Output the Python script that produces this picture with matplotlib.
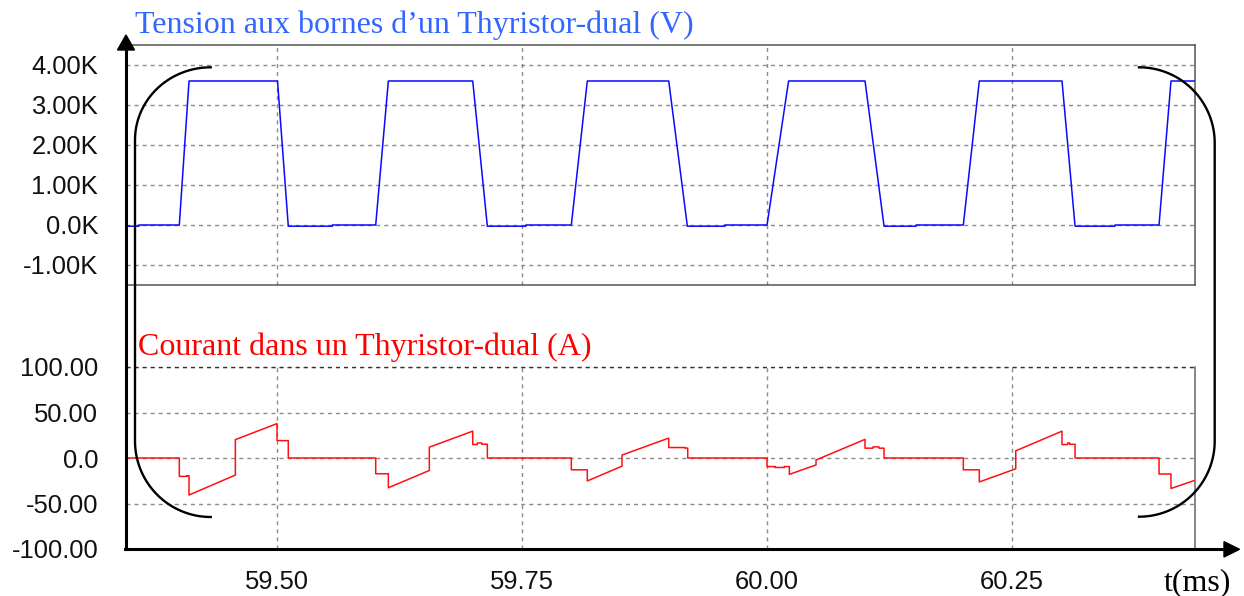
import numpy as np
import matplotlib.pyplot as plt
from matplotlib.lines import Line2D
from matplotlib.patches import Polygon

plt.rcParams['lines.scale_dashes'] = False
plt.rcParams['font.family'] = ['Liberation Sans', 'DejaVu Sans']

# time axis (ms)
t_min, t_max = 59.3459, 60.4367
t_ticks = [59.50, 59.75, 60.00, 60.25]
t_labels = ['59.50', '59.75', '60.00', '60.25']

# voltage across the dual thyristor (V), breakpoints of the trace
t_volt = [59.3459, 59.359, 59.359,
          59.4003, 59.4102, 59.5005, 59.5115, 59.5565, 59.5565,
          59.6007, 59.6136, 59.6997, 59.7146, 59.7540, 59.7540,
          59.8003, 59.8166, 59.8997, 59.9187, 59.9570, 59.9570,
          60.0000, 60.0220, 60.1000, 60.1194, 60.1520, 60.1520,
          60.2003, 60.2166, 60.3010, 60.3143, 60.3550, 60.3550,
          60.4000, 60.4122, 60.4367]
volt = [-30, -30, 0,
        0, 3600, 3600, -30, -30, 0,
        0, 3600, 3600, -30, -30, 0,
        0, 3600, 3600, -30, -30, 0,
        0, 3600, 3600, -30, -30, 0,
        0, 3600, 3600, -30, -30, 0,
        0, 3600, 3600]

# current through the dual thyristor (A), breakpoints of the trace
t_curr = [59.3459,
          59.4003, 59.4003, 59.4079, 59.4079, 59.4102, 59.4102, 59.4575, 59.4575,
          59.5000, 59.5000, 59.5115, 59.5115,
          59.6007, 59.6007, 59.6136, 59.6136, 59.6554, 59.6554, 59.6997, 59.6997,
          59.7044, 59.7044, 59.7089, 59.7089, 59.7146, 59.7146,
          59.8003, 59.8003, 59.8166, 59.8166, 59.8520, 59.8520, 59.8997, 59.8997,
          59.9163, 59.9163, 59.9191, 59.9191,
          60.0000, 60.0000, 60.0082, 60.0082, 60.0177, 60.0177, 60.0228, 60.0228,
          60.0500, 60.0500, 60.1000, 60.1000, 60.1082, 60.1082, 60.1143, 60.1143,
          60.1194, 60.1194,
          60.2003, 60.2003, 60.2166, 60.2166, 60.2538, 60.2538, 60.3010, 60.3010,
          60.3068, 60.3068, 60.3088, 60.3088, 60.3143, 60.3143,
          60.4000, 60.4000, 60.4122, 60.4122, 60.4367]
curr = [0,
        0, -20.2, -20.2, -19.5, -19.5, -40.7, -18.7, 20.2,
        37.8, 19.1, 19.1, 0,
        0, -17.3, -17.3, -32.7, -13.7, 11.9, 29.5, 14.8,
        14.8, 16.5, 16.5, 15.1, 15.1, 0,
        0, -13.0, -13.0, -25.2, -9.0, 3.2, 21.9, 11.5,
        11.5, 10.9, 10.9, 0,
        0, -9.4, -9.4, -10.4, -10.4, -9.4, -9.4, -18.0,
        -7.6, -2.2, 20.5, 10.8, 10.8, 12.2, 12.2, 10.8,
        10.8, 0,
        0, -13.0, -13.0, -26.3, -11.9, 7.9, 29.5, 14.8,
        14.8, 16.5, 16.5, 15.1, 15.1, 0,
        0, -17.6, -17.6, -33.5, -24.5]

v_ticks = [-1000, 0, 1000, 2000, 3000, 4000]
v_labels = ['-1.00K', '0.0K', '1.00K', '2.00K', '3.00K', '4.00K']
i_ticks = [-100, -50, 0, 50, 100]
i_labels = ['-100.00', '-50.00', '0.0', '50.00', '100.00']

W, H = 1244, 596
fig = plt.figure(figsize=(W / 100, H / 100), dpi=100)


def fx(x):
    return x / W


def fy(y):
    return 1 - y / H


ax_v = fig.add_axes([fx(126), fy(285), (1195 - 126) / W, (285 - 45) / H])
ax_i = fig.add_axes([fx(126), fy(549), (1195 - 126) / W, (549 - 367) / H])

ax_v.plot(t_volt, volt, color='#0a0aff', lw=1.1, zorder=3)
ax_i.plot(t_curr, curr, color='#ff1010', lw=1.1, zorder=3)

dash = (0, (2.9, 2.9))
for ax in (ax_v, ax_i):
    ax.set_xlim(t_min, t_max)
    ax.set_xticks(t_ticks)
    ax.tick_params(length=0, labelsize=18.4, colors='#111111')
    ax.tick_params(axis='y', pad=20)
    ax.tick_params(axis='x', pad=15)
    ax.grid(True, color='#8a8a8a', lw=1.0, linestyle=dash)
    ax.spines['left'].set_visible(False)

ax_v.set_ylim(-1500, 4500)
ax_v.set_yticks(v_ticks)
ax_v.set_yticklabels(v_labels)
ax_v.set_xticklabels([])
for side in ('top', 'right', 'bottom'):
    ax_v.spines[side].set_color('#555555')
    ax_v.spines[side].set_linewidth(1.1)

ax_i.set_ylim(-100, 100)
ax_i.set_yticks(i_ticks)
ax_i.set_yticklabels(i_labels)
ax_i.set_xticklabels(t_labels)
ax_i.spines['top'].set_visible(False)
ax_i.spines['bottom'].set_visible(False)
ax_i.spines['right'].set_color('#666666')
ax_i.spines['right'].set_linewidth(1.1)
ax_i.axhline(100, color='#333333', lw=1.0, linestyle=dash, clip_on=False, zorder=4)

# axis arrows
fig.add_artist(Line2D([fx(126), fx(126)], [fy(549.3), fy(49)],
                      transform=fig.transFigure, color='black', lw=2.2))
fig.add_artist(Polygon([(fx(117.5), fy(50)), (fx(134.5), fy(50)), (fx(126), fy(35))],
                       closed=True, transform=fig.transFigure, color='black'))
fig.add_artist(Line2D([fx(125), fx(1226)], [fy(549.3), fy(549.3)],
                      transform=fig.transFigure, color='black', lw=2.2))
fig.add_artist(Polygon([(fx(1224), fy(541.7)), (fx(1224), fy(557)), (fx(1239.5), fy(549.3))],
                       closed=True, transform=fig.transFigure, color='black'))


# round brackets around both traces
def bracket(x_end, x_line, y_top, y_bot, r_top, r_bot):
    s = np.sign(x_line - x_end)
    rx = abs(x_line - x_end)
    th = np.linspace(0, np.pi / 2, 40)
    xs = list(x_end + s * rx * np.sin(th)) + list(x_end + s * rx * np.cos(th))
    ys = list(y_top + r_top - r_top * np.cos(th)) + list(y_bot - r_bot + r_bot * np.sin(th))
    fig.add_artist(Line2D([fx(x) for x in xs], [fy(y) for y in ys],
                          transform=fig.transFigure, color='black', lw=1.7))


bracket(210.7, 135, 67.3, 517, 72.7, 76)
bracket(1139, 1214.7, 67.3, 516.7, 75.7, 75.7)

serif = ['Liberation Serif', 'DejaVu Serif']
fig.text(fx(134.8), fy(33.3), 'Tension aux bornes d’un Thyristor-dual (V)',
         color='#3366ff', fontsize=23, family=serif, va='baseline')
fig.text(fx(138.3), fy(355), 'Courant dans un Thyristor-dual (A)',
         color='#ff0000', fontsize=23, family=serif, va='baseline')
fig.text(fx(1164), fy(590), 't(ms)', color='black', fontsize=23, family=serif,
         va='baseline')

fig.savefig('out.png', dpi=100)
